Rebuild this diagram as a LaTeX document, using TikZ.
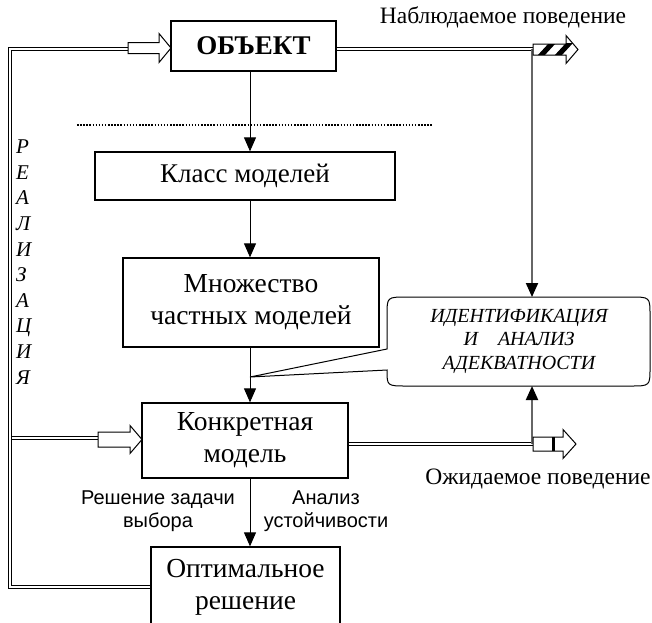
\documentclass[tikz,border=0pt]{standalone}
\usepackage{fontspec}
\setmainfont{Liberation Serif}
\newfontfamily\sansf{Liberation Sans}
\usetikzlibrary{arrows.meta}
\begin{document}
\begin{tikzpicture}[x=1pt,y=-1pt,
  box/.style={draw,line width=1.3pt,inner sep=0pt,align=center,font=\fontsize{27.5}{32}\selectfont},
  arr/.style={line width=1pt,-{Triangle[width=12pt,length=14pt]}},
  garr/.style={line width=2pt,draw=black!60,-{Triangle[width=12pt,length=14pt,color=black]}},
  dbl/.style={line width=1.1pt,double=white,double distance=2.4pt},
  barrow/.style={draw,line width=1pt,fill=white},
  lbl/.style={font=\fontsize{23.5}{28}\selectfont,inner sep=0pt},
  slbl/.style={font=\sansf\fontsize{20}{23.5}\selectfont,align=center,inner sep=0pt}]
\useasboundingbox (0,0) rectangle (652,622);
\clip (0,0) rectangle (652,622);

% nodes
\node[box,minimum width=165pt,minimum height=50pt,font=\bfseries\fontsize{27}{31}\selectfont] (obj) at (253.5,46) {ОБЪЕКТ};
\node[box,minimum width=300pt,minimum height=48pt,font=\fontsize{27}{31}\selectfont] (klass) at (245,176) {Класс моделей};
\node[box,minimum width=256pt,minimum height=89pt] (mnozh) at (251,302.5) {Множество\\частных моделей};
\node[box,minimum width=206pt,minimum height=75pt] (konk) at (245,440.5) {Конкретная\\модель};
\node[box,minimum width=189pt,minimum height=80pt] (opt) at (245.5,587) {Оптимальное\\решение};

\node[lbl] (nabl) at (503,17) {Наблюдаемое поведение};
\node[lbl] (ozhid) at (538,479) {Ожидаемое поведение};
\node[slbl] (resh) at (158,511) {Решение задачи\\выбора};
\node[slbl] (anal) at (326,511) {Анализ\\устойчивости};
\node[font=\itshape\fontsize{21}{25.6}\selectfont,align=left,inner sep=0pt,anchor=west] (real) at (16,262)
  {Р\\Е\\А\\Л\\И\\З\\А\\Ц\\И\\Я};

% coordinates
\coordinate (vx) at (250,0);
\coordinate (tip) at (250,377);
\coordinate (nr) at (533,49);
\coordinate (gtop) at (532,49);
\coordinate (ctop) at (532,297);
\coordinate (cbot) at (532,386);
\coordinate (gbot) at (532,444);
\coordinate (er) at (533,444);
\coordinate (lt) at (10,49);
\coordinate (lb) at (10,587);
\coordinate (a1s) at (128,49);
\coordinate (a2s) at (98,438);
\coordinate (d1) at (77,125);
\coordinate (d2) at (432,125);

% dotted line
\draw[line width=1.8pt,dash pattern=on 1.5pt off 1.6pt] (d1) -- (d2);

% vertical arrows
\draw[arr] (obj.south -| vx) -- (klass.north -| vx);
\draw[arr] (klass.south -| vx) -- (mnozh.north -| vx);
\draw[arr] (mnozh.south -| vx) -- (konk.north -| vx);
\draw[arr] (konk.south -| vx) -- (opt.north -| vx);

% callout
\draw[line width=1pt,fill=white] (387,349) -- (tip) -- (387,370)
  .. controls (387,386) .. (407,386) -- (630,386)
  .. controls (650,386) .. (650,368) -- (650,315)
  .. controls (650,297) .. (630,297) -- (407,297)
  .. controls (387,297) .. (387,315) -- cycle;
\node[font=\itshape\fontsize{20}{23.5}\selectfont,align=center,inner sep=0pt] (ident) at (519,341)
  {ИДЕНТИФИКАЦИЯ\\И\quad АНАЛИЗ\\АДЕКВАТНОСТИ};

% double lines
\draw[dbl] (lb |- a2s) -- (a2s);
\draw[dbl] (a1s) -- (lt) -- (lb) -- (opt.west |- lb);
\draw[dbl] (obj.east |- nr) -- (nr);
\draw[dbl] (konk.east |- er) -- (er);

% gray connectors into the callout
\draw[garr] (gtop) -- (ctop);
\draw[garr] (gbot) -- (cbot);

% block arrows
\draw[barrow] (128,42.5) -- (159,42.5) -- (159,33.5) -- (171,48) -- (159,62.5) -- (159,53.5) -- (128,53.5) -- cycle;
\draw[barrow] (98,432) -- (130,432) -- (130,425.5) -- (142,439.5) -- (130,453.5) -- (130,447) -- (98,447) -- cycle;
% striped arrow
\begin{scope}
  \clip (533,44) -- (566,44) -- (566,35.5) -- (578,49.5) -- (566,63.5) -- (566,55) -- (533,55) -- cycle;
  \fill[white] (533,30) rectangle (580,70);
  \fill[black] (537,56) -- (544,56) -- (556,43) -- (549,43) -- cycle;
  \fill[black] (554,56) -- (561,56) -- (573,43) -- (566,43) -- cycle;
\end{scope}
\draw[line width=1pt] (533,44) -- (566,44) -- (566,35.5) -- (578,49.5) -- (566,63.5) -- (566,55) -- (533,55) -- cycle;
% expected arrow with bar
\draw[barrow] (533,437) -- (563,437) -- (563,429.5) -- (576,444) -- (563,458.5) -- (563,451) -- (533,451) -- cycle;
\fill[black] (551.5,437) rectangle (555,451);
\end{tikzpicture}
\end{document}
